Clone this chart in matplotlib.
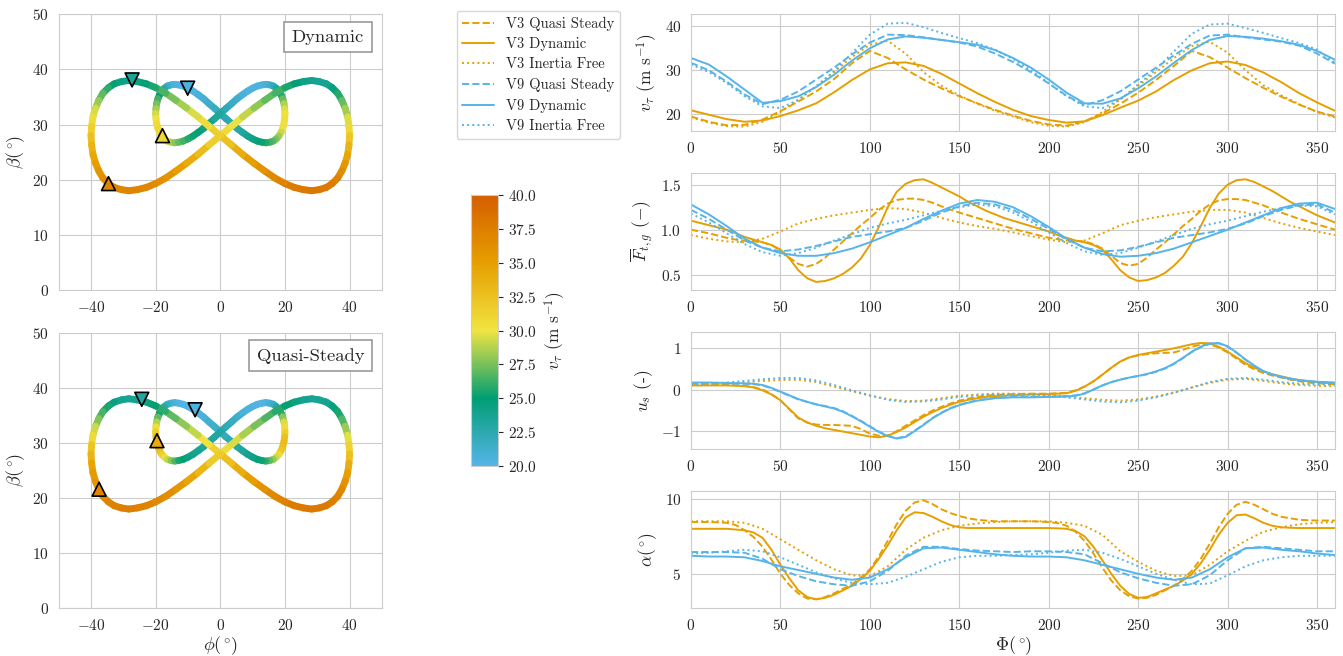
import matplotlib
matplotlib.use('Agg')
import matplotlib.pyplot as plt
import seaborn as sns
import numpy as np
from matplotlib.collections import LineCollection
from matplotlib.colors import LinearSegmentedColormap, Normalize
from matplotlib.cm import ScalarMappable

sns.set_style('whitegrid')
plt.rcParams['font.family'] = 'serif'
plt.rcParams['font.serif'] = ['cmr10']
plt.rcParams['mathtext.fontset'] = 'cm'
plt.rcParams['axes.formatter.use_mathtext'] = True
plt.rcParams['font.size'] = 11

# phase angle along the figure of eight (deg); sharper curves are read every 5 deg
phase = list(range(0, 361, 10))
phase_fine = list(range(0, 361, 5))

# tangential velocity v_tau (m/s)
vt_v3_qs = [19.5, 18.3, 17.5, 17.6, 18.8, 20.7, 22.9, 25.2, 28.0, 31.6, 34.4, 32.8, 30.2, 27.9, 25.9, 24.1, 22.5, 21.0, 19.7,
            18.5, 17.7, 17.4, 18.4, 20.2, 22.4, 24.9, 27.8, 31.0, 34.4, 33.0, 30.6, 28.2, 26.0, 24.0, 22.2, 20.6, 19.5]
vt_v3_dyn = [20.9, 19.9, 18.9, 18.3, 18.6, 19.6, 20.9, 22.5, 25.0, 27.8, 30.2, 31.6, 31.8, 31.0, 29.2, 27.0, 24.8, 22.8, 21.0,
             19.6, 18.7, 18.1, 18.4, 19.8, 21.5, 23.1, 25.2, 27.8, 30.0, 31.6, 32.0, 31.2, 29.5, 27.3, 24.8, 22.7, 20.8]
vt_v3_if = [19.3, 18.1, 17.3, 17.2, 18.3, 20.5, 23.3, 26.3, 29.6, 33.0, 35.8, 36.7, 33.8, 29.6, 26.5, 24.3, 22.4, 20.8, 19.5,
            18.2, 17.4, 17.2, 18.2, 20.5, 23.4, 26.5, 29.6, 32.8, 35.5, 36.5, 34.0, 30.0, 26.6, 24.3, 22.3, 20.5, 19.3]
vt_v9_qs = [31.7, 30.0, 27.4, 24.5, 22.3, 23.3, 25.2, 27.9, 30.6, 33.6, 36.3, 38.1, 38.0, 37.5, 36.9, 36.3, 35.4, 33.8, 31.9,
            29.6, 27.0, 24.2, 22.1, 23.2, 25.2, 27.9, 30.6, 33.4, 36.0, 37.9, 38.1, 37.5, 37.0, 36.5, 35.6, 33.8, 31.5]
vt_v9_dyn = [32.8, 31.3, 28.6, 25.6, 22.6, 23.0, 24.1, 26.2, 29.0, 32.2, 35.0, 37.0, 37.7, 37.4, 36.9, 36.4, 35.8, 34.6, 32.8,
             30.6, 27.9, 24.9, 22.5, 22.4, 23.6, 25.9, 28.6, 31.7, 34.6, 36.9, 37.8, 37.6, 37.2, 36.6, 35.8, 34.4, 32.4]
vt_v9_if = [31.3, 29.6, 27.1, 24.1, 21.8, 21.4, 23.3, 26.4, 29.8, 33.9, 38.1, 40.6, 40.8, 39.8, 38.5, 37.3, 36.2, 34.7, 32.6,
            30.0, 27.1, 24.1, 21.8, 21.4, 23.3, 26.8, 30.2, 34.3, 38.3, 40.4, 40.6, 39.6, 38.5, 37.3, 36.2, 34.7, 31.7]

# normalised tether force F_t,g (-)
ft_v3_qs = [1.00, 0.98, 0.96, 0.935, 0.91, 0.89, 0.88, 0.87, 0.86, 0.83, 0.77, 0.69, 0.62, 0.59, 0.62, 0.69, 0.78, 0.87, 0.96,
            1.05, 1.13, 1.22, 1.29, 1.33, 1.345, 1.345, 1.33, 1.30, 1.26, 1.225, 1.19, 1.16, 1.13, 1.10, 1.07, 1.04, 1.01,
            0.985, 0.96, 0.935, 0.91, 0.895, 0.88, 0.875, 0.87, 0.84, 0.79, 0.71, 0.63, 0.60, 0.62, 0.69, 0.78, 0.86, 0.95,
            1.04, 1.12, 1.21, 1.28, 1.325, 1.34, 1.34, 1.33, 1.30, 1.27, 1.23, 1.19, 1.155, 1.12, 1.09, 1.06, 1.03, 1.00]
ft_v3_dyn = [1.10, 1.075, 1.05, 1.025, 1.00, 0.96, 0.92, 0.89, 0.86, 0.83, 0.78, 0.68, 0.55, 0.46, 0.42, 0.43, 0.46, 0.51, 0.58,
             0.68, 0.83, 1.03, 1.25, 1.42, 1.51, 1.55, 1.56, 1.52, 1.47, 1.42, 1.37, 1.31, 1.26, 1.21, 1.17, 1.13, 1.10,
             1.07, 1.04, 1.01, 0.98, 0.94, 0.91, 0.88, 0.86, 0.83, 0.78, 0.67, 0.55, 0.47, 0.43, 0.44, 0.47, 0.52, 0.60,
             0.70, 0.85, 1.04, 1.24, 1.40, 1.50, 1.55, 1.56, 1.53, 1.48, 1.43, 1.37, 1.31, 1.26, 1.21, 1.16, 1.12, 1.08]
ft_v3_if = [0.94, 0.90, 0.87, 0.86, 0.90, 0.98, 1.07, 1.12, 1.16, 1.19, 1.22, 1.24, 1.23, 1.19, 1.13, 1.08, 1.04, 1.01, 0.97,
            0.93, 0.89, 0.86, 0.88, 0.96, 1.05, 1.10, 1.14, 1.17, 1.20, 1.22, 1.22, 1.19, 1.13, 1.07, 1.02, 0.98, 0.94]
ft_v9_qs = [1.22, 1.12, 1.00, 0.88, 0.80, 0.76, 0.78, 0.82, 0.87, 0.92, 0.95, 0.98, 1.02, 1.10, 1.19, 1.26, 1.30, 1.28, 1.22,
            1.12, 1.01, 0.89, 0.80, 0.76, 0.77, 0.81, 0.86, 0.91, 0.94, 0.97, 1.01, 1.07, 1.15, 1.22, 1.27, 1.28, 1.19]
ft_v9_dyn = [1.28, 1.17, 1.04, 0.90, 0.80, 0.74, 0.71, 0.71, 0.74, 0.79, 0.86, 0.94, 1.02, 1.12, 1.21, 1.29, 1.33, 1.31, 1.25,
             1.15, 1.03, 0.90, 0.80, 0.73, 0.70, 0.71, 0.74, 0.79, 0.86, 0.93, 1.00, 1.08, 1.16, 1.24, 1.29, 1.30, 1.23]
ft_v9_if = [1.18, 1.08, 0.96, 0.84, 0.75, 0.71, 0.74, 0.80, 0.88, 0.95, 1.02, 1.07, 1.11, 1.16, 1.21, 1.25, 1.28, 1.26, 1.19,
            1.09, 0.97, 0.85, 0.76, 0.72, 0.74, 0.80, 0.87, 0.94, 1.01, 1.06, 1.10, 1.15, 1.20, 1.24, 1.27, 1.26, 1.17]

# steering input u_s (-)
us_v3_qs = [0.12, 0.12, 0.12, 0.115, 0.11, 0.10, 0.09, 0.06, 0.0, -0.11, -0.26, -0.48, -0.70, -0.80, -0.85, -0.86, -0.86, -0.87, -0.88,
            -0.96, -1.07, -1.12, -1.12, -1.01, -0.88, -0.75, -0.62, -0.51, -0.42, -0.34, -0.27, -0.22, -0.18, -0.15, -0.13, -0.12, -0.11,
            -0.105, -0.10, -0.10, -0.10, -0.09, -0.08, -0.02, 0.07, 0.20, 0.36, 0.53, 0.68, 0.78, 0.83, 0.86, 0.88, 0.89, 0.90,
            0.96, 1.04, 1.09, 1.10, 1.02, 0.90, 0.75, 0.60, 0.49, 0.40, 0.34, 0.29, 0.24, 0.20, 0.17, 0.15, 0.14, 0.13]
us_v3_dyn = [0.10, 0.10, 0.10, 0.10, 0.10, 0.095, 0.08, 0.05, -0.02, -0.12, -0.26, -0.47, -0.68, -0.80, -0.88, -0.94, -0.98, -1.02, -1.06,
             -1.10, -1.14, -1.16, -1.12, -1.03, -0.92, -0.79, -0.66, -0.55, -0.45, -0.37, -0.30, -0.25, -0.21, -0.18, -0.16, -0.15, -0.14,
             -0.13, -0.12, -0.115, -0.11, -0.10, -0.09, -0.03, 0.07, 0.20, 0.36, 0.53, 0.68, 0.78, 0.84, 0.88, 0.92, 0.96, 1.00,
             1.05, 1.10, 1.13, 1.12, 1.04, 0.92, 0.78, 0.64, 0.53, 0.44, 0.37, 0.32, 0.27, 0.23, 0.20, 0.18, 0.16, 0.15]
us_v3_if = [0.10, 0.11, 0.13, 0.17, 0.21, 0.23, 0.24, 0.18, 0.07, -0.04, -0.15, -0.23, -0.28, -0.27, -0.21, -0.15, -0.12, -0.10, -0.10,
            -0.11, -0.13, -0.16, -0.21, -0.25, -0.27, -0.24, -0.17, -0.07, 0.05, 0.16, 0.24, 0.26, 0.21, 0.15, 0.11, 0.09, 0.08]
us_v9_qs = [0.16, 0.16, 0.16, 0.155, 0.15, 0.145, 0.14, 0.13, 0.10, 0.03, -0.06, -0.15, -0.24, -0.30, -0.36, -0.40, -0.45, -0.53, -0.64,
            -0.76, -0.89, -1.02, -1.12, -1.18, -1.14, -1.00, -0.85, -0.69, -0.56, -0.45, -0.37, -0.31, -0.26, -0.23, -0.20, -0.19, -0.18,
            -0.18, -0.18, -0.175, -0.17, -0.165, -0.16, -0.14, -0.09, 0.0, 0.10, 0.18, 0.24, 0.29, 0.33, 0.37, 0.43, 0.51, 0.62,
            0.76, 0.91, 1.03, 1.11, 1.12, 1.04, 0.89, 0.72, 0.57, 0.44, 0.36, 0.30, 0.255, 0.22, 0.20, 0.18, 0.17, 0.16]
us_v9_dyn = [0.17, 0.17, 0.17, 0.165, 0.16, 0.155, 0.15, 0.14, 0.11, 0.04, -0.05, -0.14, -0.23, -0.30, -0.36, -0.41, -0.46, -0.54, -0.65,
             -0.77, -0.90, -1.03, -1.13, -1.19, -1.15, -1.01, -0.86, -0.70, -0.57, -0.46, -0.38, -0.32, -0.27, -0.24, -0.21, -0.20, -0.19,
             -0.19, -0.19, -0.185, -0.18, -0.175, -0.17, -0.15, -0.10, 0.0, 0.10, 0.18, 0.24, 0.29, 0.33, 0.38, 0.44, 0.52, 0.63,
             0.77, 0.92, 1.04, 1.12, 1.13, 1.05, 0.90, 0.73, 0.58, 0.45, 0.37, 0.31, 0.265, 0.23, 0.21, 0.19, 0.18, 0.17]
us_v9_if = [0.13, 0.14, 0.17, 0.21, 0.25, 0.28, 0.28, 0.22, 0.11, -0.02, -0.14, -0.25, -0.30, -0.29, -0.24, -0.18, -0.14, -0.12, -0.12,
            -0.13, -0.15, -0.19, -0.24, -0.29, -0.31, -0.27, -0.19, -0.08, 0.05, 0.18, 0.26, 0.28, 0.24, 0.18, 0.14, 0.12, 0.12]

# angle of attack alpha (deg)
al_v3_qs = [8.45, 8.45, 8.45, 8.43, 8.4, 8.25, 7.9, 7.45, 6.8, 5.95, 5.0, 4.25, 3.7, 3.35, 3.3, 3.45, 3.7, 4.0, 4.3,
            4.75, 5.3, 6.15, 7.2, 8.3, 9.2, 9.75, 9.9, 9.65, 9.3, 9.05, 8.85, 8.7, 8.6, 8.55, 8.5, 8.5, 8.5,
            8.5, 8.5, 8.48, 8.45, 8.38, 8.2, 7.8, 7.2, 6.35, 5.4, 4.55, 3.9, 3.5, 3.35, 3.4, 3.6, 3.9, 4.2,
            4.65, 5.2, 6.0, 7.0, 8.1, 9.0, 9.6, 9.8, 9.6, 9.3, 9.0, 8.8, 8.7, 8.6, 8.57, 8.55, 8.55, 8.55]
al_v3_dyn = [8.0, 8.0, 8.0, 8.0, 8.0, 7.95, 7.9, 7.75, 7.4, 6.6, 5.6, 4.7, 3.9, 3.45, 3.3, 3.4, 3.6, 3.9, 4.2,
             4.65, 5.2, 6.0, 6.9, 7.9, 8.75, 9.1, 9.05, 8.8, 8.5, 8.25, 8.1, 8.05, 8.05, 8.05, 8.05, 8.05, 8.05,
             8.05, 8.05, 8.05, 8.05, 8.03, 8.0, 7.85, 7.5, 6.8, 5.9, 5.0, 4.2, 3.65, 3.4, 3.45, 3.7, 3.95, 4.2,
             4.55, 5.0, 5.7, 6.6, 7.6, 8.4, 8.9, 8.95, 8.7, 8.4, 8.2, 8.1, 8.07, 8.05, 8.05, 8.05, 8.05, 8.05]
al_v3_if = [8.5, 8.5, 8.5, 8.4, 8.0, 7.3, 6.6, 5.9, 5.3, 4.9, 4.85, 5.5, 6.6, 7.4, 7.9, 8.2, 8.35, 8.45, 8.5,
            8.5, 8.5, 8.4, 8.2, 7.6, 6.5, 5.8, 5.2, 4.85, 4.9, 5.6, 6.5, 7.2, 7.8, 8.1, 8.3, 8.4, 8.45]
al_v9_qs = [6.45, 6.45, 6.45, 6.4, 6.0, 5.3, 4.85, 4.5, 4.3, 4.2, 4.5, 5.2, 6.2, 6.8, 6.8, 6.65, 6.55, 6.5, 6.45,
            6.5, 6.5, 6.45, 6.3, 5.7, 5.1, 4.7, 4.4, 4.2, 4.3, 4.9, 5.9, 6.7, 6.8, 6.7, 6.6, 6.5, 6.5]
al_v9_dyn = [6.2, 6.15, 6.15, 6.1, 5.85, 5.5, 5.25, 5.0, 4.75, 4.6, 4.75, 5.3, 6.1, 6.7, 6.75, 6.6, 6.45, 6.3, 6.2,
             6.15, 6.15, 6.1, 5.9, 5.6, 5.3, 5.0, 4.75, 4.6, 4.75, 5.3, 6.1, 6.7, 6.75, 6.6, 6.5, 6.35, 6.25]
al_v9_if = [6.35, 6.4, 6.5, 6.6, 6.5, 6.1, 5.6, 5.1, 4.7, 4.4, 4.3, 4.4, 4.8, 5.3, 5.8, 6.1, 6.2, 6.2, 6.25,
            6.3, 6.4, 6.55, 6.6, 6.4, 6.0, 5.5, 5.0, 4.6, 4.3, 4.35, 4.9, 5.5, 5.9, 6.1, 6.2, 6.2, 6.2]

# flight paths (azimuth phi, elevation beta in deg), read every 5 deg of path, same shape for both models
big_phi = [0, 3.5, 6.9, 10.4, 13.7, 16.9, 20.0, 22.9, 25.7, 28.3, 30.6, 32.8, 34.6, 36.3, 37.6, 38.6, 39.4, 39.8, 40.0,
           39.8, 39.4, 38.6, 37.6, 36.3, 34.6, 32.8, 30.6, 28.3, 25.7, 22.9, 20.0, 16.9, 13.7, 10.4, 6.9, 3.5, 0,
           -3.5, -6.9, -10.4, -13.7, -16.9, -20.0, -22.9, -25.7, -28.3, -30.6, -32.8, -34.6, -36.3, -37.6, -38.6, -39.4, -39.8, -40.0,
           -39.8, -39.4, -38.6, -37.6, -36.3, -34.6, -32.8, -30.6, -28.3, -25.7, -22.9, -20.0, -16.9, -13.7, -10.4, -6.9, -3.5, 0]
big_beta = [28.0, 29.7, 31.4, 33.0, 34.4, 35.7, 36.7, 37.4, 37.8, 38.0, 37.8, 37.4, 36.7, 35.7, 34.4, 33.0, 31.4, 29.7, 28.0,
            26.3, 24.6, 23.0, 21.6, 20.3, 19.3, 18.6, 18.2, 18.0, 18.2, 18.6, 19.3, 20.3, 21.6, 23.0, 24.6, 26.3, 28.0,
            29.7, 31.4, 33.0, 34.4, 35.7, 36.7, 37.4, 37.8, 38.0, 37.8, 37.4, 36.7, 35.7, 34.4, 33.0, 31.4, 29.7, 28.0,
            26.3, 24.6, 23.0, 21.6, 20.3, 19.3, 18.6, 18.2, 18.0, 18.2, 18.6, 19.3, 20.3, 21.6, 23.0, 24.6, 26.3, 28.0]
small_phi = [0, 1.7, 3.5, 5.2, 6.8, 8.5, 10.0, 11.5, 12.9, 14.1, 15.3, 16.4, 17.3, 18.1, 18.8, 19.3, 19.7, 19.9, 20.0,
             19.9, 19.7, 19.3, 18.8, 18.1, 17.3, 16.4, 15.3, 14.1, 12.9, 11.5, 10.0, 8.5, 6.8, 5.2, 3.5, 1.7, 0,
             -1.7, -3.5, -5.2, -6.8, -8.5, -10.0, -11.5, -12.9, -14.1, -15.3, -16.4, -17.3, -18.1, -18.8, -19.3, -19.7, -19.9, -20.0,
             -19.9, -19.7, -19.3, -18.8, -18.1, -17.3, -16.4, -15.3, -14.1, -12.9, -11.5, -10.0, -8.5, -6.8, -5.2, -3.5, -1.7, 0]
small_beta = [32.0, 32.9, 33.8, 34.7, 35.4, 36.1, 36.6, 37.0, 37.2, 37.3, 37.2, 37.0, 36.6, 36.1, 35.4, 34.7, 33.8, 32.9, 32.0,
              31.1, 30.2, 29.3, 28.6, 27.9, 27.4, 27.0, 26.8, 26.7, 26.8, 27.0, 27.4, 27.9, 28.6, 29.3, 30.2, 31.1, 32.0,
              32.9, 33.8, 34.7, 35.4, 36.1, 36.6, 37.0, 37.2, 37.3, 37.2, 37.0, 36.6, 36.1, 35.4, 34.7, 33.8, 32.9, 32.0,
              31.1, 30.2, 29.3, 28.6, 27.9, 27.4, 27.0, 26.8, 26.7, 26.8, 27.0, 27.4, 27.9, 28.6, 29.3, 30.2, 31.1, 32.0]

# v_tau along the paths (m/s)
big_v_dyn = [31, 30.2, 29.5, 28.5, 27.5, 26.7, 26, 25.2, 24.5, 24, 23.5, 23.7, 24, 25.2, 26.5, 27.8, 29, 30.2, 31.5,
             32.8, 34, 35, 36, 36.8, 37.5, 37.8, 38, 38, 38, 37.8, 37.5, 37, 36.5, 35.5, 34.5, 33.2, 32,
             31, 30, 29, 28, 27, 26, 25.2, 24.5, 24.2, 24, 24.7, 25.5, 26.5, 27.5, 28.8, 30, 31, 32,
             33, 34, 34.8, 35.5, 36, 36.5, 36.8, 37, 37, 37, 36.8, 36.5, 36, 35.5, 34.5, 33.5, 32.2, 31]
small_v_dyn = [23, 22.5, 22, 21.5, 21, 20.7, 20.5, 20.5, 20.5, 20.7, 21, 21.7, 22.5, 23.7, 25, 26.5, 28, 29.2, 30,
               30.4, 30.5, 30.1, 29.5, 28.8, 28, 27.2, 26.5, 26, 25.5, 25, 24.5, 24, 23.5, 23, 22.5, 22.5, 22.5,
               22, 21.5, 21.1, 20.8, 20.5, 20.3, 20.2, 20.2, 20.3, 20.5, 21.2, 22, 23.2, 24.5, 25.8, 27, 28, 29,
               29.8, 30.5, 30.8, 31, 30.8, 30.5, 29.8, 29, 28.2, 27.5, 26.7, 26, 25.5, 25, 24.5, 24, 23.5, 23]
big_v_qs = [31, 30, 29, 28, 27, 26.2, 25.5, 24.7, 24, 23.7, 23.5, 23.7, 24, 25, 26, 27.5, 29, 30.5, 32,
            33.3, 34.5, 35.5, 36.5, 37, 37.5, 37.8, 38, 38, 38, 37.8, 37.5, 37, 36.5, 35.5, 34.5, 33.2, 32,
            30.7, 29.5, 28.5, 27.5, 26.5, 25.5, 24.7, 24, 23.7, 23.5, 24.2, 25, 26, 27, 28.5, 30, 31.5, 33,
            34, 35, 35.5, 36, 36.5, 37, 37.2, 37.5, 37.5, 37.5, 37.2, 37, 36.5, 36, 35, 34, 32.5, 31]
small_v_qs = [23, 22.5, 22, 21.5, 21, 20.7, 20.5, 20.4, 20.3, 20.4, 20.6, 21.2, 22, 23.5, 25, 27, 29, 30, 31,
              32, 33, 32.9, 32.5, 31.3, 30, 28.7, 27.5, 26.5, 25.5, 25, 24.5, 24, 23.5, 23, 22.5, 22.2, 22,
              21.6, 21.2, 20.9, 20.6, 20.4, 20.2, 20.2, 20.2, 20.4, 20.6, 21.3, 22, 23.2, 24.5, 26.2, 28, 29.5, 31,
              32.3, 33.5, 33.4, 33, 32, 31, 29.7, 28.5, 27.2, 26, 25.2, 24.5, 24.1, 23.8, 23.5, 23.3, 23.1, 23]

# triangle markers on the paths: phi, beta, v_tau
tri_down_dyn = ([-27.3, -10.1], [38.1, 36.6], [23.5, 20.5])
tri_up_dyn = ([-34.6, -17.9], [19.3, 28.0], [37.0, 31.0])
tri_down_qs = ([-24.3, -7.8], [37.9, 36.0], [23.0, 20.5])
tri_up_qs = ([-37.5, -19.6], [21.6, 30.4], [37.0, 34.0])

orange = '#E69F00'
blue = '#56B4E9'
cmap = LinearSegmentedColormap.from_list('oi', ['#56B4E9', '#009E73', '#F0E442', '#E69F00', '#D55E00'])
norm = Normalize(20, 40)
deg = r'(^\circ\hspace{-0.2})'

fig = plt.figure(figsize=(13.43, 6.56), dpi=100)

ax_dyn = fig.add_axes([0.0437, 0.5579, 0.2407, 0.4203])
ax_qs = fig.add_axes([0.0437, 0.0727, 0.2407, 0.4203])


def draw_path(ax, phi, beta, v):
    pts = np.column_stack([phi, beta])
    segs = np.stack([pts[:-1], pts[1:]], axis=1)
    v = np.asarray(v, dtype=float)
    lc = LineCollection(segs, cmap=cmap, norm=norm, linewidths=5, capstyle='round', zorder=3)
    lc.set_array(0.5 * (v[:-1] + v[1:]))
    ax.add_collection(lc)


for ax, bv, sv, tdn, tup, name in [(ax_dyn, big_v_dyn, small_v_dyn, tri_down_dyn, tri_up_dyn, 'Dynamic'),
                                   (ax_qs, big_v_qs, small_v_qs, tri_down_qs, tri_up_qs, 'Quasi-Steady')]:
    draw_path(ax, small_phi, small_beta, sv)
    draw_path(ax, big_phi, big_beta, bv)
    ax.scatter(tdn[0], tdn[1], c=tdn[2], cmap=cmap, norm=norm, marker='v', s=100,
               edgecolors='black', linewidths=1.2, zorder=5)
    ax.scatter(tup[0], tup[1], c=tup[2], cmap=cmap, norm=norm, marker='^', s=100,
               edgecolors='black', linewidths=1.2, zorder=5)
    ax.set_xlim(-50, 50)
    ax.set_ylim(0, 50)
    ax.set_xticks([-40, -20, 0, 20, 40])
    ax.set_yticks([0, 10, 20, 30, 40, 50])
    ax.set_ylabel(r'$\beta' + deg + '$', fontsize=13)
    ax.text(0.945, 0.945, name, transform=ax.transAxes, ha='right', va='top', fontsize=13.4,
            bbox=dict(boxstyle='square,pad=0.4', fc='white', ec='#999999', lw=1.2))
ax_qs.set_xlabel(r'$\phi' + deg + '$', fontsize=13, labelpad=1)

# colour bar
cax = fig.add_axes([0.3507, 0.2896, 0.0201, 0.4131])
cb = fig.colorbar(ScalarMappable(norm=norm, cmap=cmap), cax=cax,
                  ticks=[20, 22.5, 25, 27.5, 30, 32.5, 35, 37.5, 40])
cb.set_label(r'$v_\tau$ (m s$^{-1}$)', fontsize=12.5)
cb.outline.set_edgecolor('#cccccc')
cax.tick_params(labelsize=11)

# time series
bottoms = [0.8003, 0.5579, 0.3151, 0.0727]
axes_r = [fig.add_axes([0.5145, b, 0.4795, 0.1784]) for b in bottoms]

series = [
    (vt_v3_qs, vt_v3_dyn, vt_v3_if, vt_v9_qs, vt_v9_dyn, vt_v9_if),
    (ft_v3_qs, ft_v3_dyn, ft_v3_if, ft_v9_qs, ft_v9_dyn, ft_v9_if),
    (us_v3_qs, us_v3_dyn, us_v3_if, us_v9_qs, us_v9_dyn, us_v9_if),
    (al_v3_qs, al_v3_dyn, al_v3_if, al_v9_qs, al_v9_dyn, al_v9_if),
]
labels = ['V3 Quasi Steady', 'V3 Dynamic', 'V3 Inertia Free',
          'V9 Quasi Steady', 'V9 Dynamic', 'V9 Inertia Free']
colors = [orange, orange, orange, blue, blue, blue]
styles = ['--', '-', ':', '--', '-', ':']
ylabels = [r'$v_\tau$ (m s$^{-1}$)', r'$\overline{F}_{t,g}$ $(-)$', r'$u_s$ (-)', r'$\alpha' + deg + '$']
ylims = [(16.2, 42.8), (0.33, 1.63), (-1.45, 1.39), (2.7, 10.5)]
yticks = [[20, 30, 40], [0.5, 1.0, 1.5], [-1, 0, 1], [5, 10]]

handles = []
for i, ax in enumerate(axes_r):
    for vals, c, ls, lab in zip(series[i], colors, styles, labels):
        x = phase_fine if len(vals) == len(phase_fine) else phase
        ln, = ax.plot(x, vals, color=c, ls=ls, lw=1.4, label=lab)
        if i == 0:
            handles.append(ln)
    ax.set_xlim(0, 360)
    ax.set_xticks([0, 50, 100, 150, 200, 250, 300, 350])
    ax.set_ylim(*ylims[i])
    ax.set_yticks(yticks[i])
    ax.set_ylabel(ylabels[i], fontsize=12.5)
axes_r[-1].set_xlabel(r'$\Phi' + deg + '$', fontsize=13, labelpad=1)

fig.legend(handles, labels, loc='upper left', bbox_to_anchor=(0.3345, 0.995),
           fontsize=10.5, handlelength=2.2, labelspacing=0.45)

fig.savefig('out.png', dpi=100)
